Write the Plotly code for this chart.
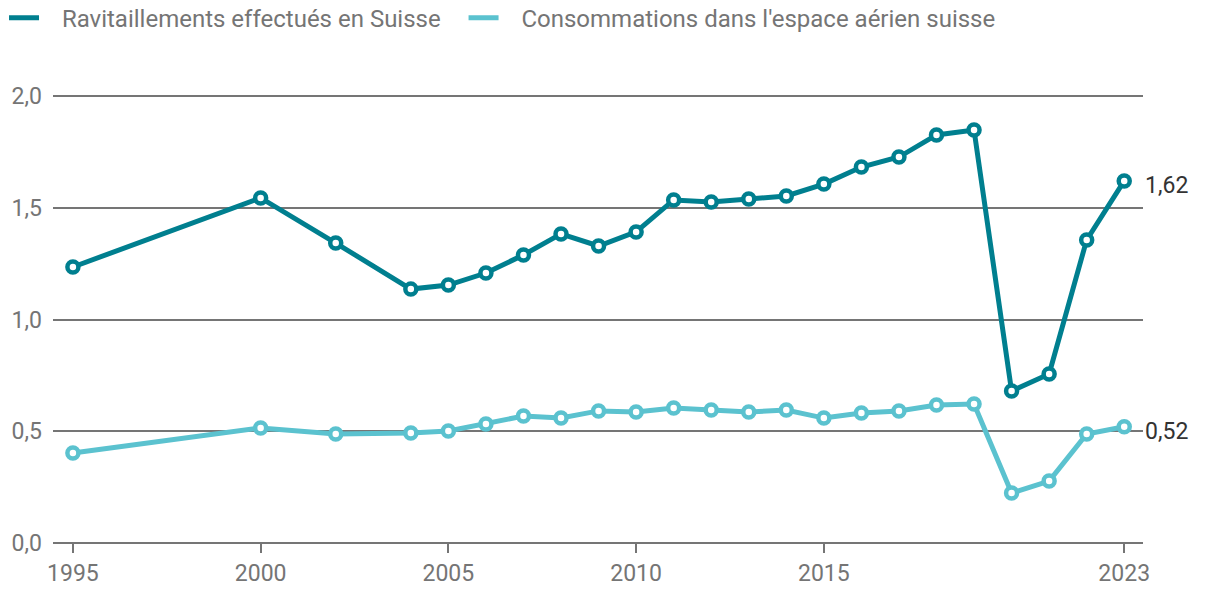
import plotly.graph_objects as go

years = [1995, 2000, 2002, 2004, 2005, 2006, 2007, 2008, 2009, 2010, 2011, 2012,
         2013, 2014, 2015, 2016, 2017, 2018, 2019, 2020, 2021, 2022, 2023]
ravitaillements = [1.235, 1.544, 1.342, 1.136, 1.154, 1.208, 1.289, 1.383, 1.329, 1.392,
                   1.535, 1.526, 1.539, 1.553, 1.606, 1.682, 1.727, 1.826, 1.848,
                   0.680, 0.756, 1.356, 1.62]
consommations = [0.403, 0.515, 0.488, 0.492, 0.501, 0.532, 0.568, 0.559, 0.591, 0.586,
                 0.604, 0.595, 0.586, 0.595, 0.559, 0.582, 0.591, 0.617, 0.622,
                 0.224, 0.277, 0.488, 0.52]
names = ["Ravitaillements effectués en Suisse", "Consommations dans l'espace aérien suisse"]
end_labels = ["1,62", "0,52"]
tick_vals = [1995, 2000, 2005, 2010, 2015, 2023]
y_ticks = [0, 0.5, 1.0, 1.5, 2.0]
y_tick_text = ["0,0", "0,5", "1,0", "1,5", "2,0"]

colors = ["#007f8f", "#5bc2cf"]
FONT = "Roboto"
GREY = "#757575"
PAD = "\u00a0\u00a0\u00a0"
TAIL = "\u00a0\u00a0\u00a0"

fig = go.Figure()
for vals, name, col in zip([ravitaillements, consommations], names, colors):
    fig.add_trace(go.Scatter(x=years, y=vals, mode="lines", name=PAD + name + TAIL,
                             line=dict(color=col, width=5), legendgroup=name,
                             hoverinfo="skip"))
    fig.add_trace(go.Scatter(x=years, y=vals, mode="markers", name=name,
                             marker=dict(size=11, color="white",
                                         line=dict(color=col, width=4.5)),
                             legendgroup=name, showlegend=False))

for vals, lab in zip([ravitaillements, consommations], end_labels):
    fig.add_annotation(x=years[-1], y=vals[-1], text=lab, showarrow=False,
                       xanchor="left", yanchor="middle", xshift=19, yshift=-5,
                       font=dict(family=FONT, size=23, color="#333333"))

fig.update_layout(
    width=1220, height=604,
    margin=dict(l=53, r=77, t=94, b=61),
    paper_bgcolor="white", plot_bgcolor="white",
    font=dict(family=FONT, size=23, color=GREY),
    legend=dict(orientation="h", xref="container", yref="container",
                x=0.0033, y=0.970, xanchor="left", yanchor="middle",
                font=dict(family=FONT, size=24, color=GREY),
                itemwidth=30),
    showlegend=True,
)
fig.update_xaxes(range=[1994.47, 2023.5], tickvals=tick_vals,
                 ticktext=[str(v) for v in tick_vals],
                 showgrid=False, zeroline=False, showline=False,
                 ticks="outside", ticklen=9, tickwidth=2, tickcolor=GREY,
                 tickfont=dict(family=FONT, size=23, color=GREY))
fig.update_yaxes(range=[0, 2.009], tickvals=y_ticks, ticktext=y_tick_text,
                 showgrid=True, gridcolor=GREY, gridwidth=1.5,
                 zeroline=True, zerolinecolor=GREY, zerolinewidth=2,
                 showline=False, ticks="", ticklabelstandoff=10,
                 tickfont=dict(family=FONT, size=23, color=GREY))

fig.write_html("out.html", config={"displayModeBar": False},
               post_script="document.body.style.margin='0';")
